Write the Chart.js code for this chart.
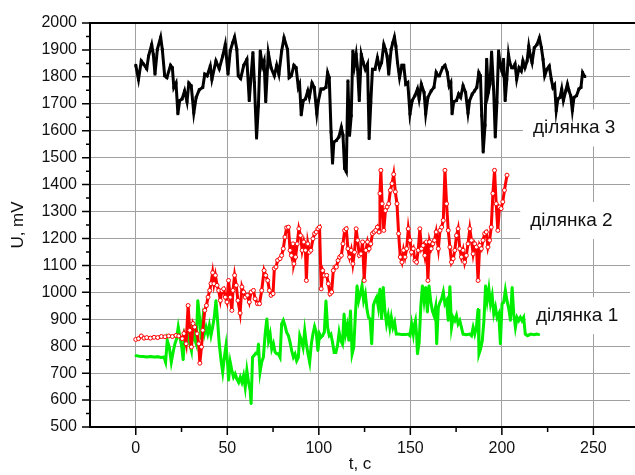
<!DOCTYPE html>
<html>
<head>
<meta charset="utf-8">
<script src="https://cdn.jsdelivr.net/npm/chart.js@4.4.1/dist/chart.umd.min.js"></script>
<style>
  html, body { margin: 0; padding: 0; background: #fff; }
</style>
</head>
<body>
<canvas id="chart" width="635" height="475"></canvas>
<script>
// ділянка 3 (black)
const t3 = [0,1.5,3,4.3,6,7,8.7,9.6,10.5,11.8,13.6,14.5,15.8,17,19,20,20.8,22,23,24,25.3,26.7,28,29,30.3,31.7,33,34.7,36.6,37.7,39,40.7,41.6,43.8,45.6,47.5,48.9,50.4,51.6,52.9,54,55.2,56,57.3,59,60.7,62,62.8,64,64.8,66,67,68,69.2,70.1,71,72.4,73.9,75.7,77,78.2,79.7,81,
  82.9,83.8,85,86.4,87.6,88.8,89.5,90.4,91.5,92.7,94,94.8,96.3,97.5,98.9,99.8,101.2,102.5,103.9,104.8,105.7,106.7,107.5,108.2,109.6,111,112.3,113.2,114.1,115,115.9,116.8,117.7,118.6,119.5,120.4,121.2,122.1,123.2,124.3,125.4,126.6,127.5,128.4,129.3,130.7,132,133.2,134.3,135.5,136.4,137.3,138.2,139.5,140.4,141.3,142.1,143,144.1,145.4,146.4,147.5,148.6,149.8,151,152.5,153.9,154.8,156,157.5,158.4,159.6,161.4,162.9,164.1,165,165.9,
  167.6,168.9,170.2,171.2,172.1,172.8,173.7,175.2,176.4,177.5,178.8,180.2,181.5,182.4,183.8,185.1,186.3,187.4,188.3,189,189.8,190.8,191.7,192.6,193.5,194.4,195.5,196.4,197.3,198.2,199.1,200,200.9,201.8,202.7,203.6,204.3,205.4,206.3,207.2,208.1,209.4,210.6,211.5,212.6,213.8,214.7,215.6,216.5,217.7,219.2,220.5,221.6,222.5,223.4,224.6,225.9,227,227.9,228.8,229.7,230.6,231.8,232.7,233.6,234.9,235.8,236.7,237.6,238.5,239.4,240.8,242.1,243.2,244.1,245.3];
const u3 = [1843,1790,1859,1847,1830,1877,1920,1883,1810,1902,1947,1902,1804,1797,1843,1834,1760,1777,1663,1712,1718,1748,1708,1777,1767,1666,1724,1752,1761,1810,1804,1840,1791,1859,1830,1877,1920,1810,1896,1926,1948,1902,1804,1794,1843,1865,1712,1785,1890,1779,1573,1693,1896,1840,1859,1708,1890,1834,1804,1843,1810,1896,1945,
  1902,1797,1804,1843,1834,1761,1773,1659,1712,1718,1748,1724,1777,1761,1663,1712,1755,1755,1761,1816,1797,1595,1480,1558,1564,1577,1613,1583,1460,1448,1785,1583,1656,1896,1843,1883,1828,1712,1883,1853,1828,1847,1571,1706,1828,1828,1871,1834,1853,1920,1902,1877,1810,1902,1926,1948,1914,1853,1797,1843,1843,1773,1779,1663,1712,1730,1755,1718,1773,1742,1663,1724,1748,1761,1816,1804,1804,
  1834,1843,1816,1767,1779,1663,1708,1712,1736,1724,1767,1742,1666,1712,1736,1748,1761,1816,1804,1656,1521,1620,1865,1742,1773,1892,1755,1577,1706,1896,1843,1822,1865,1712,1791,1883,1853,1834,1834,1847,1791,1834,1822,1859,1834,1859,1914,1877,1853,1908,1920,1945,1908,1865,1804,1828,1840,1791,1761,1770,1675,1718,1724,1755,1712,1748,1773,1748,1730,1675,1724,1730,1755,1761,1816,1801];

// ділянка 2 (red)
const t2 = [0,1.5,3,4.5,6,8,10,12,14,16,18,20,22,23.5,25.4,26.3,27.5,28.6,29.5,30.4,31.3,32.2,33.5,34.4,35,35.9,36.6,37.7,38.6,39.5,40.4,41.1,42,42.7,43.5,44.4,45.3,46.2,47.1,48,48.9,49.8,50.7,51.6,52.5,53.1,54,54.9,55.8,57,58,58.9,59.8,61,62,63,64.3,65.2,66.5,67.6,68.8,70.1,71,72.1,73,73.9,75,75.7,76.6,77.5,78.8,79.7,80.6,81.5,82.4,
  83.4,84.3,85,85.9,86.4,87.3,88.2,89.1,90,90.9,91.8,92.7,93.2,94,94.8,95.7,96.8,97.7,98.6,99.5,100.4,101.3,102.1,103,104.3,105.2,106.1,107,107.9,108.8,109.6,110.5,111.4,112.3,113.2,114.1,115,115.9,116.8,117.7,118.6,119.5,120.4,121.2,122.1,123,123.9,124.8,125.7,126.6,127.5,128.4,129.3,130.2,131.1,132,132.9,133.4,133.9,134.6,135.5,136.4,137.3,138.2,139.1,140,140.9,141.8,142.7,143.6,144.5,145.4,146.3,147.1,148,148.9,149.8,150.7,151.6,152.5,153.4,154.3,155.2,156.1,157,157.9,158.8,159.6,160.5,161.4,162.3,163.2,164.1,
  165.3,166.2,167.1,168,168.9,169.8,170.7,171.6,172.5,173.4,174.3,175.2,176.1,177,177.9,178.8,179.7,180.6,181.5,182.5,183.4,184.3,185.2,186.1,187,187.9,188.8,189.7,190.6,191.5,192.4,193.3,194.2,195.1,196,196.9,197.8,198.7,199.6,200.5,201.4,202.8];
const u2 = [825,828,838,830,832,830,833,832,836,835,838,836,840,838,828,847,809,951,859,797,884,871,846,809,737,797,859,933,951,982,1007,1032,1073,1032,1063,1026,1007,970,1007,1013,982,964,1044,982,933,1007,1063,1026,970,923,1020,1001,982,989,964,1001,1007,976,958,958,1007,1081,1063,1044,1007,989,995,1088,1094,1119,1125,1137,1162,1205,1240,
  1242,1156,1137,1180,1106,1131,1180,1236,1211,1156,1187,1156,1044,1180,1149,1156,1199,1218,1224,1236,1242,1013,1081,1063,1063,1032,994,1001,1081,1094,1094,1118,1131,1137,1180,1230,1236,1162,1131,1156,1106,1149,1236,1193,1137,1143,1187,1044,1156,1187,1162,1180,1218,1224,1230,1242,1224,1367,1453,1329,1230,1304,1317,1329,1379,1404,1438,1373,1329,1218,1131,1112,1156,1131,1162,1236,1193,1149,1162,1118,1112,1156,1236,1162,1174,1137,1187,1044,1187,1162,1180,1193,1224,
  1162,1230,1242,1267,1453,1329,1230,1168,1112,1125,1156,1211,1236,1162,1131,1156,1112,1137,1180,1236,1193,1143,1180,1168,1044,1174,1162,1193,1218,1224,1168,1193,1242,1367,1453,1329,1230,1317,1311,1336,1379,1435];

// ділянка 1 (green)
const t1 = [0,2,4,6,8,10,12,14,15.4,16.3,17.2,18.3,19.4,20.4,21.4,22.3,23.2,24.1,25,25.9,26.6,27.5,28.4,29.5,30.4,31.2,32.1,33,33.9,34.8,35.7,36.6,37.5,38.4,39.3,40.2,41.1,42,42.9,43.8,44.7,45.6,46.6,47.5,48.4,49.3,50.2,50.7,51.6,52.5,53.4,54.3,55.2,56.2,57.1,58,58.9,59.8,60.7,61.6,62.5,63,63.8,64.7,65.6,66.5,67,67.9,68.8,69.7,70.7,71.6,72.5,73.4,74.3,75.2,76.1,77,77.9,78.8,79.7,80.6,81.5,82.4,
  83.4,84.3,85.2,86.1,87,87.9,88.8,89.6,90.5,91.4,92.3,93.2,94.1,95,95.9,96.8,97.7,98.6,99.5,100.4,101.2,102.1,103,103.9,104.8,105.7,106.6,107.5,108.4,109.3,110.2,111.1,112,112.9,113.8,114.6,115.5,116.4,117.3,118.2,119.1,120,120.9,121.8,122.7,123.6,124.5,125.4,126.3,127.1,128,128.9,129.8,130.7,131.6,132.5,133.4,134.3,135.2,136.1,137,137.9,138.8,139.6,140.5,141.4,142.3,143.6,145.4,147.1,148.9,149.8,150.7,151.6,152.1,152.8,153.4,153.9,154.8,155.7,156.6,157.5,158.4,159.3,160.2,161.1,162,162.9,163.8,
  164.4,165.3,166.2,167.1,168,168.9,169.8,170.7,171.6,172.5,173.4,174.3,175.2,176.1,177,177.9,178.8,180.6,182.5,183.4,184.3,185.2,186.1,187,187.5,188.4,189.3,190.2,191.1,192,192.9,193.8,194.7,195.6,196.5,197.4,198.3,199.2,200.1,201,201.9,202.8,203.8,204.7,205.6,206.5,207.4,208.3,209.2,210.1,211,211.9,212.8,214,215.8,217.6,219,220.3];
const u1 = [765,763,762,760,762,760,761,758,760,741,821,797,741,778,809,828,871,834,803,749,840,821,859,809,784,883,828,809,970,908,828,896,846,871,846,877,840,871,908,970,896,809,747,704,759,803,735,673,741,710,685,697,679,666,685,666,691,648,710,666,636,586,759,766,774,771,809,704,741,759,846,902,821,846,790,809,778,772,772,759,883,896,877,852,
  839,814,783,759,771,746,759,839,821,796,858,808,771,740,808,845,873,852,783,845,833,839,852,969,870,839,845,814,777,777,802,852,821,808,920,845,876,821,932,771,796,920,1025,969,994,1025,969,994,938,907,901,808,951,969,982,945,1013,901,1019,932,883,914,870,907,870,889,845,845,843,843,845,839,883,845,876,895,845,771,814,945,1025,969,1019,926,1025,969,932,914,945,
  808,945,963,976,1001,957,969,895,1022,870,907,895,914,883,895,870,845,843,845,839,870,845,870,938,771,790,821,895,1025,969,1013,957,988,920,945,907,920,808,957,963,1007,969,938,895,1019,920,870,907,895,907,895,907,845,839,845,843,845,843];

const xTicks = [0, 50, 100, 150, 200, 250];
const yTicks = [500, 600, 700, 800, 900, 1000, 1100, 1200, 1300, 1400, 1500, 1600, 1700, 1800, 1900, 2000];
const seriesNames = ['ділянка 3', 'ділянка 2', 'ділянка 1'];

const toPoints = (t, u) => t.map((x, i) => ({ x: x, y: u[i] }));

const FONT = 'Arial, "Liberation Sans", sans-serif';

// where the series names sit (data coordinates of the text baseline start)
const namePos = [
    { x: 217, y: 1590 },
    { x: 215.5, y: 1246 },
    { x: 218.6, y: 893 }
];

const framePlugin = {
    id: 'frame',
    beforeDatasetsDraw(chart) {
        const ctx = chart.ctx;
        const a = chart.chartArea;
        const xs = chart.scales.x, ys = chart.scales.y;
        ctx.save();
        // name labels with white boxes over the grid
        ctx.font = '19px ' + FONT;
        ctx.textBaseline = 'alphabetic';
        seriesNames.forEach((name, i) => {
            const px = xs.getPixelForValue(namePos[i].x);
            const py = ys.getPixelForValue(namePos[i].y);
            ctx.fillStyle = '#fff';
            ctx.fillRect(px - 10, py - 24, chart.width - px + 10, 37);
            ctx.fillStyle = '#111';
            ctx.fillText(name, px, py);
        });
        // frame
        ctx.strokeStyle = '#000';
        ctx.lineWidth = 2;
        ctx.beginPath();
        ctx.moveTo(chart.width, a.top);
        ctx.lineTo(a.left, a.top);
        ctx.lineTo(a.left, a.bottom);
        ctx.lineTo(chart.width, a.bottom);
        ctx.stroke();
        // tick marks, outward
        ctx.lineWidth = 1.5;
        ctx.beginPath();
        for (let i = 0; i < xTicks.length; i++) {
            const v = xTicks[i];
            let p = xs.getPixelForValue(v);
            ctx.moveTo(p, a.bottom); ctx.lineTo(p, a.bottom + 8);
            const m = v + (xTicks[1] - xTicks[0]) / 2;
            if (m < xs.max) {
                p = xs.getPixelForValue(m);
                ctx.moveTo(p, a.bottom); ctx.lineTo(p, a.bottom + 5);
            }
        }
        for (let i = 0; i < yTicks.length; i++) {
            const v = yTicks[i];
            let p = ys.getPixelForValue(v);
            ctx.moveTo(a.left, p); ctx.lineTo(a.left - 8, p);
            const m = v + (yTicks[1] - yTicks[0]) / 2;
            if (m < ys.max) {
                p = ys.getPixelForValue(m);
                ctx.moveTo(a.left, p); ctx.lineTo(a.left - 4, p);
            }
        }
        ctx.stroke();
        ctx.restore();
    }
};

new Chart(document.getElementById('chart'), {
    type: 'line',
    data: {
        datasets: [
            {
                label: seriesNames[0],
                data: toPoints(t3, u3),
                borderColor: '#000',
                backgroundColor: '#000',
                borderWidth: 3,
                pointStyle: 'rect',
                pointRadius: 2,
                pointBorderWidth: 0,
                tension: 0
            },
            {
                label: seriesNames[1],
                data: toPoints(t2, u2),
                borderColor: '#ff0000',
                backgroundColor: '#fff',
                borderWidth: 3,
                pointRadius: 2,
                pointBorderWidth: 1,
                pointBorderColor: '#ff0000',
                pointBackgroundColor: '#fff',
                tension: 0
            },
            {
                label: seriesNames[2],
                data: toPoints(t1, u1),
                borderColor: '#00ee00',
                backgroundColor: '#00ee00',
                borderWidth: 3,
                pointStyle: 'rect',
                pointRadius: 1.5,
                pointBorderWidth: 0,
                tension: 0
            }
        ]
    },
    options: {
        responsive: false,
        animation: false,
        devicePixelRatio: 1,
        layout: { padding: { left: 0, right: 0, top: 23, bottom: 0 } },
        plugins: {
            legend: { display: false },
            tooltip: { enabled: false }
        },
        scales: {
            x: {
                type: 'linear',
                min: -25,
                max: 270,
                afterBuildTicks: s => { s.ticks = xTicks.map(v => ({ value: v })); },
                afterFit: s => { s.height = 48; },
                grid: { color: '#a0a0a0', lineWidth: 1, drawTicks: false },
                border: { display: false },
                ticks: { padding: 12, color: '#111', font: { family: FONT, size: 16 }, callback: v => String(v) },
                title: {
                    display: true,
                    text: 't, c',
                    color: '#111',
                    font: { family: FONT, size: 17 },
                    padding: { top: 0, bottom: 0 }
                }
            },
            y: {
                type: 'linear',
                min: 500,
                max: 2000,
                afterBuildTicks: s => { s.ticks = yTicks.map(v => ({ value: v })); },
                afterFit: s => { s.width = 90; },
                grid: { color: '#a0a0a0', lineWidth: 1, drawTicks: false },
                border: { display: false },
                ticks: { padding: 13, color: '#111', font: { family: FONT, size: 16 }, callback: v => String(v) },
                title: {
                    display: true,
                    text: 'U, mV',
                    color: '#111',
                    font: { family: FONT, size: 17 },
                    padding: { top: 8, bottom: 0 }
                }
            }
        }
    },
    plugins: [framePlugin]
});
</script>
</body>
</html>
